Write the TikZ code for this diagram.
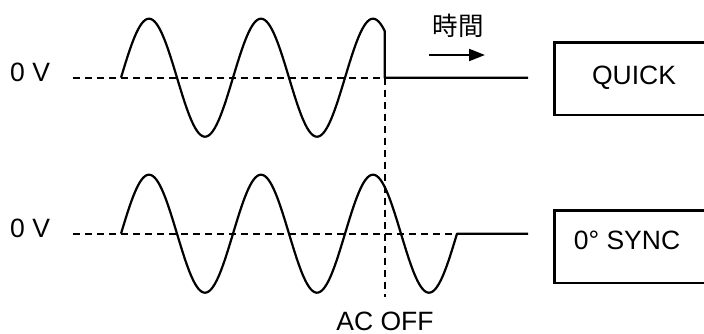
\documentclass[tikz,border=0pt]{standalone}
\usepackage{fontspec}
\setmainfont{Liberation Sans}
\newfontfamily\cjk{Noto Sans CJK JP}
\usetikzlibrary{arrows.meta}
\begin{document}
\begin{tikzpicture}[x=1pt,y=-1pt,
  wave/.style={line width=2.2pt, line join=round},
  base/.style={line width=1.8pt, dash pattern=on 7pt off 5pt},
  lbl/.style={font=\fontsize{26.5}{30}\selectfont, inner sep=0pt},
  box/.style={draw, line width=2.5pt, minimum width=170pt, inner sep=0pt}]
\useasboundingbox (0,0) rectangle (704,334);
% baselines
\coordinate (b1s) at (73,77.7);
\coordinate (b1e) at (485,77.7);
\coordinate (b2s) at (73,233.7);
\coordinate (b2e) at (485,233.7);
\draw[base] (b1s) -- (b1e);
\draw[base] (b2s) -- (b2e);
% waves
\draw[wave] plot[domain=121:384.7, samples=200, smooth] (\x, {77.7-59*sin(3.2142857*(\x-121))}) -- (384.7,77.7) -- (528,77.7);
\draw[wave] plot[domain=121:457, samples=240, smooth] (\x, {233.7-59*sin(3.2142857*(\x-121))}) -- (528,233.7);
% AC OFF line
\coordinate (v1) at (384.7,77.7);
\coordinate (v2) at (384.7,297);
\draw[base] (v1) -- (v2);
% labels
\node[lbl, anchor=base west] (z1) at (10,81.7) {0 V};
\node[lbl, anchor=base west] (z2) at (10,237.7) {0 V};
\node[lbl, anchor=base] (ac) at (385,330.5) {AC OFF};
\node[lbl, anchor=base, font=\cjk\fontsize{25.5}{30}\selectfont] (t) at (458,35.5) {時間};
\coordinate (a1) at (429,55);
\coordinate (a2) at (485,55);
\draw[line width=2pt, -{Triangle[length=16pt,width=12pt]}] (a1) -- (a2);
% boxes
\node[box, minimum height=72.3pt] (qb) at (639.7,78.85) {};
\node[box, minimum height=72.7pt] (sb) at (639.7,246.65) {};
\node[lbl, anchor=base] (q) at (634,84.3) {QUICK};
\node[lbl, anchor=base] (s) at (627,249.3) {0° SYNC};
\end{tikzpicture}
\end{document}
